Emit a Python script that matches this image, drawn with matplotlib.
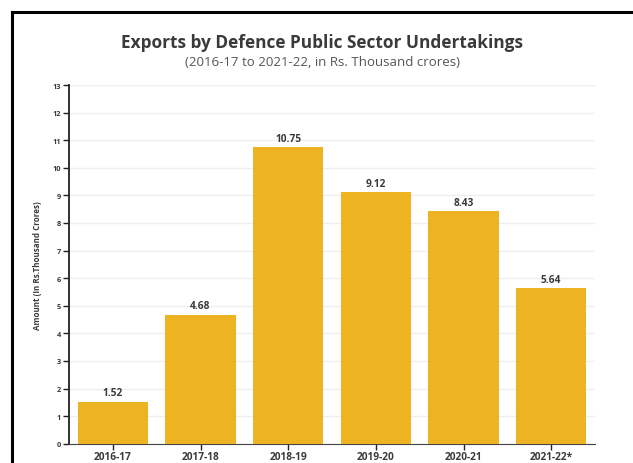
import matplotlib.pyplot as plt
from matplotlib.lines import Line2D

years = ["2016-17", "2017-18", "2018-19", "2019-20", "2020-21", "2021-22*"]
exports = [1.52, 4.68, 10.75, 9.12, 8.43, 5.64]
yticks = list(range(0, 14))

plt.rcParams["font.family"] = ["Open Sans", "DejaVu Sans"]
text_col = "#3a3a3a"
bar_col = "#edb322"

fig = plt.figure(figsize=(6.33, 4.64), dpi=100)
ax = fig.add_axes([0.109, 0.0416, 0.831, 0.773])

x = range(len(years))
bars = ax.bar(x, exports, width=0.8, color=bar_col, zorder=3)
for b, v in zip(bars, exports):
    ax.text(b.get_x() + b.get_width() / 2, v + 0.12, f"{v:.2f}", ha="center", va="bottom",
            fontsize=7.3, fontweight="bold", color=text_col)

ax.set_xlim(-0.5, len(years) - 0.5)
ax.set_ylim(0, 13)
ax.set_yticks(yticks)
ax.set_xticks(list(x))
ax.set_xticklabels(years)
ax.tick_params(axis="y", labelsize=5.3, length=4, width=1, color="#222222", labelcolor=text_col, pad=2)
ax.tick_params(axis="x", labelsize=7.3, length=4, width=1, color="#222222", labelcolor=text_col, pad=1.5)
for lab in ax.get_xticklabels() + ax.get_yticklabels():
    lab.set_fontweight("bold")
ax.grid(axis="y", color="#eeeeee", linewidth=1, zorder=0)
ax.spines["top"].set_visible(False)
ax.spines["right"].set_visible(False)
ax.spines["left"].set_color("#222222")
ax.spines["bottom"].set_color("#444444")
ax.spines["left"].set_linewidth(1.3)
ax.set_ylabel("Amount (In Rs.Thousand Crores)", fontsize=5.8, fontweight="bold", color=text_col, labelpad=7)

fig.text(0.509, 0.907, "Exports by Defence Public Sector Undertakings", ha="center", va="center",
         fontsize=12.4, fontweight="bold", color=text_col)
fig.text(0.509, 0.866, "(2016-17 to 2021-22, in Rs. Thousand crores)", ha="center", va="center",
         fontsize=9.5, color="#555555")

# outer frame
fig.add_artist(Line2D([11.5 / 633, 1], [1 - 12.5 / 464, 1 - 12.5 / 464], color="black", linewidth=2.2))
fig.add_artist(Line2D([11.5 / 633, 11.5 / 633], [0, 1 - 12.5 / 464], color="black", linewidth=2.2))

fig.savefig("out.png", dpi=100)
